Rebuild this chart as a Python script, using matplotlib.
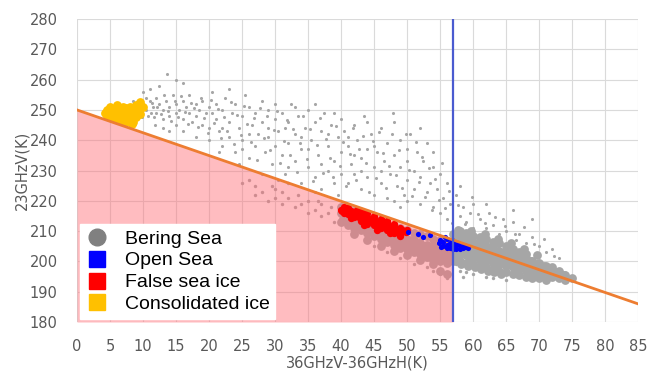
import numpy as np
import matplotlib.pyplot as plt
from matplotlib.lines import Line2D

# threshold lines
line_x = [0, 85]
line_y = [250, 186]
sea_limit = 57

# Bering Sea points, sparse upper cloud
cloud = [(8.5,253),(9,251),(9.5,249),(10,252),(10.5,250),(10.8,248),(11,253),(11.5,251),(12,249),(12,254),
         (12.5,252),(13,250),(13,247),(13.5,253),(14,251),(14,248),(14.5,255),(15,252),(15,249),(15.5,250),
         (16,253),(16,247),(16.5,251),(17,249),(17,255),(17.5,246),(18,252),(18,248),(18.5,250),(19,245),
         (19,253),(19.5,249),(20,251),(20,244),(10,256),(11,257),(12.5,258),(13.6,262),(15,260),(16,259),
         (14,243),(16,243),(18,241),(20,240),(11.8,245),(13,244),(15,245),(10.2,250.5),(11.2,249),(12.2,251),
         (20.5,256),(21,252),(21,247),(21.5,243),(22,250),(22,238),(22.5,254),(23,246),(23,241),(23.5,249),
         (24,236),(24,252),(24.5,244),(25,248),(25,240),(25.5,255),(26,251),(26,234),(26.5,245),(27,238),
         (27,249),(27.5,242),(28,253),(28,246),(28.5,236),(29,250),(29,241),(29.5,232),(30,247),(30,238),
         (20.5,249),(21.5,236),(23,257),(24.5,232),(26,242),(28,229),(29,244),(30,252),(25,237),(22,244),
         (30.5,243),(31,249),(31,235),(31.5,229),(32,246),(32,239),(32.5,252),(33,242),(33,233),(33.5,248),
         (34,237),(34,226),(34.5,244),(35,250),(35,231),(35.5,240),(36,246),(36,228),(36.5,235),(37,243),
         (37,224),(37.5,249),(38,238),(38,230),(38.5,245),(39,233),(39,226),(39.5,241),(40,247),(40,236),
         (30.5,227),(31.5,244),(32,231),(33,251),(34,241),(35,237),(36,252),(37,232),(38,242),(39,249),
         (40,229),(36,223),(39.5,222),
         (40.5,243),(41,238),(41,226),(41.5,232),(42,245),(42,229),(42.5,240),(43,234),(43,224),(43.5,248),
         (44,237),(44,228),(44.5,242),(45,231),(45,222),(45.5,236),(46,244),(46,226),(46.5,233),(47,239),
         (47,221),(47.5,229),(48,246),(48,235),(48.5,225),(49,240),(49,231),(49.5,222),(50,237),(50,227),
         (41,241),(42,235),(43,230),(44,246),(45,238),(46,230),(47.9,249),(48,220),(49,218),(50,233),(50,220),
         (50.5,242),(51,230),(51,224),(51.5,236),(52,228),(52,219),(52.5,233),(53,223),(53,239),(53.5,226),
         (54,218),(54,231),(54.5,224),(55,229),(55,216),(55.5,221),(56,226),(56,214),(56.5,219),(57.5,222),
         (58,215),(58.5,218),(59,213),(59.5,216),(60,211),(60,219),(58,225),(52,244),(54,236),
         (61,214),(62,211),(62.5,216),(63,212),(64,209),(64.5,214),(65,210),(66,213),(66.5,207),(67,209),
         (68,206),(69,208),(70,205),(71,203),(72,204),(73,201),(69,214),(66,217),(62,219)]

cloud2 = [(9.2,252.5),(9.8,247.5),(10.5,254),(11.3,252.2),(11.7,247.8),(12.8,248.6),(13.2,255),(13.8,249.5),
          (14.3,246.5),(14.8,252.8),(15.3,247.6),(15.8,254.5),(16.3,249.3),(16.8,245.5),(17.3,252.4),(17.8,250.6),
          (18.3,244.2),(18.8,254),(19.3,247.2),(19.8,242.5),(20.3,253.4),(20.8,245.6),(21.3,250.2),(21.8,240.8),
          (22.3,247.8),(22.8,243),(23.3,252.6),(23.8,238.6),(24.3,248.2),(24.8,241.8),(25.3,251.3),(25.8,245.2),
          (26.3,239.5),(26.8,247.4),(27.3,233.6),(27.8,250.7),(28.3,240.6),(28.8,247.9),(29.3,236.8),(29.8,243.3),
          (30.3,249.6),(30.8,232.5),(31.3,239.8),(31.8,246.6),(32.3,235.2),(32.8,243.7),(33.3,229.6),(33.8,239.2),
          (34.3,248.1),(34.8,233.9),(35.3,243.8),(35.8,226.4),(36.3,238.3),(36.8,247.3),(37.3,229.1),(37.8,240.4),
          (38.3,234.2),(38.8,227.8),(39.3,244.6),(39.8,231.6),(40.3,239.4),(40.8,224.8),(41.3,235.6),(41.8,244.1),
          (42.3,226.8),(42.8,237.2),(43.3,241.4),(43.8,232.6),(44.3,222.9),(44.8,239.6),(45.3,227.4),(45.8,242.6),
          (46.3,235.9),(46.8,224.1),(47.3,231.4),(47.8,241.9),(48.3,228.6),(48.8,236.8),(49.3,224.3),(49.8,242.1),
          (50.3,230.1),(50.8,221.6),(51.3,239.3),(51.8,226.2),(52.3,234.6),(52.8,221.4),(53.3,230.8),(53.8,216.9),
          (54.3,227.1),(54.8,220.2),(55.3,232.5),(55.8,217.7),(56.3,223.3),(56.8,212.6),(57.8,218.5),(58.8,212.2),
          (59.8,221.2),(60.8,215.6),(61.8,212.8),(63.3,214.6),(64.8,211.6),(66.3,209.2),(67.8,211.2),(69.3,205.6),
          (70.8,207.3),(72.3,201.8)]

# Bering Sea points just under the orange line and below the dense band
under = [(25,226),(26,227),(27,222),(28,223),(29,220),(30,221),(31,219),(32,221),(33,218),(34,219),
         (35,216),(36,217),(37,215),(38,216),(39,213),(30,224),(32,226),(27,225),(35,220),(37,219),
         (29.5,225),(31,223),(33.5,222),(36.5,220),(38.5,218),
         (45,205),(47,203),(49,201),(51,199),(53,198),(55,196),(56,194.5),(54,197),(52,200.5),
         (58,197),(59,196.5),(60,196),(62,195),(63,194.5),(65,194),(61,197.5),(57.5,199),(58.5,195)]

# Bering Sea dense band along the line
band = [(40,216),(40,213),(40,218),(41,215),(41,212),(41,217.5),(42,214),(42,211),(42,216.5),(42,209),
        (43,213.5),(43,210.5),(43,215.5),(44,212),(44,209.5),(44,214.5),(44,207),(45,211.5),(45,208.5),
        (45,214),(46,210.5),(46,207.5),(46,213),(46,205),(47,210),(47,206.5),(47,212.5),(48,209),(48,205.5),
        (48,211.5),(48,203.5),(49,208),(49,204.5),(49,211),(50,207.5),(50,204),(50,210.5),(50,202),
        (51,207),(51,203),(51,209.5),(51,205),(52,206),(52,202.5),(52,209),(52,200.5),(53,205.5),(53,201.5),
        (53,208.5),(53,203.5),(54,205),(54,200.5),(54,207.5),(54,199),(55,204),(55,200),(55,207),(55,202),
        (55,197),(56,203.5),(56,199.5),(56,206.5),(56,201.5),(56,196),(57,203),(57,206),(57,209),(57,200),
        (58,202.5),(58,205.5),(58,208),(58,200),(58,210),(59,202),(59,204.5),(59,207.5),(59,199.5),(59,209.5),
        (60,201),(60,204),(60,206.5),(60,199),(60,208.5),(61,200.5),(61,203.5),(61,206),(61,198.5),(61,208),
        (62,200),(62,202.5),(62,205),(62,198),(62,207.5),(63,199.5),(63,202),(63,204.5),(63,197.5),(63,206.5),
        (64,199),(64,201.5),(64,203.5),(64,197),(64,206),(65,198.5),(65,200.5),(65,203),(65,196.5),(65,205),
        (66,198),(66,200),(66,202.5),(66,196),(66,204),(67,197.5),(67,199.5),(67,201.5),(67,195.5),(67,203),
        (68,197),(68,199),(68,201),(68,195),(68,202.5),(69,196.5),(69,198),(69,200),(69,194.5),(70,196),
        (70,197.5),(70,199.5),(70,194.5),(71,195.5),(71,197),(71,198.5),(71,194),(72,195),(72,196.5),
        (72,198),(73,194.5),(73,196),(73,197),(74,194),(74,195.5),(75,194.5),
        (40.5,214.5),(41.5,213),(42.5,212.5),(43.5,211.5),(44.5,210.5),(45.5,209.5),(46.5,208.5),(47.5,207.5),
        (48.5,206.5),(49.5,205.5),(50.5,205),(51.5,204),(52.5,203.5),(53.5,202.5),(54.5,201.5),(55.5,201),
        (56.5,200.5),(57.5,202),(58.5,203.5),(59.5,201),(60.5,202.5),(61.5,201.5),(62.5,201),(63.5,200.5),
        (64.5,200),(65.5,199),(66.5,198.5),(67.5,198),(68.5,197.5),(69.5,196.5),(70.5,196),(71.5,195.5),
        (72.5,195.5),(73.5,195),(57.5,207),(58.5,206.5),(59.5,205.5),(60.5,205),(61.5,204.5),(62.5,203.5),
        (63.5,203),(64.5,202.5),(65.5,201.5),(66.5,201),(67.5,200.5),(68.5,199.5),(69.5,198.5),(70.5,198)]

band2 = [(40.25,214),(40.75,215.5),(41.25,213.5),(41.75,215),(42.25,212),(42.75,214.5),(43.25,211.5),
         (43.75,213),(44.25,210.5),(44.75,212.5),(45.25,210),(45.75,211.5),(46.25,209),(46.75,210.5),
         (47.25,208),(47.75,209.5),(48.25,207),(48.75,208.5),(49.25,206),(49.75,207.5),(50.25,205.5),
         (50.75,207),(51.25,204.5),(51.75,206),(52.25,203.5),(52.75,205),(53.25,202.5),(53.75,204),
         (54.25,202),(54.75,203.5),(55.25,201),(55.75,202.5),(56.25,200.5),(56.75,202),
         (57.25,204),(57.75,208.5),(58.25,203.5),(58.75,207.5),(59.25,203),(59.75,206.5),(60.25,202),
         (60.75,206),(61.25,201.5),(61.75,205),(62.25,201),(62.75,204.5),(63.25,200),(63.75,203.5),
         (64.25,199.5),(64.75,203),(65.25,199),(65.75,202),(66.25,198.5),(66.75,201.5),(67.25,198),
         (67.75,200.5),(68.25,197.5),(68.75,200),(69.25,197),(69.75,199),(70.25,196.5),(70.75,198.5),
         (71.25,196),(71.75,197.5),(72.25,195.5),(72.75,196.5),(73.25,195),(73.75,195.5),
         (57.25,201),(58.25,199),(59.25,198.5),(60.25,198),(61.25,197.5),(62.25,197),(63.25,196.5),
         (64.25,196),(57.75,210.5),(59.75,210),(61.75,209),(63.75,207.5),(65.75,206),(67.75,204),(69.75,202)]

# False sea ice
false_ice = [(40,217),(40.5,216),(41,217.5),(41,215.5),(41.5,216.5),(42,216),(42,214.5),(42.5,215),(43,215.5),
             (43,213.5),(43.5,214),(44,214.5),(44,212.5),(44.5,213.5),(45,214),(45,212),(45.5,212.5),(46,213),
             (46,211),(46.5,212),(47,212.5),(47,210.5),(47.5,211),(48,211.5),(48,209.5),(48.5,210.5),(49,211),
             (49,209.5),(49.5,210),(50,210.5),(40.5,218),(42.5,217),(44,216),(46,214),(48,212.5),(43,216.8),
             (45,215),(47,213.5),(41.5,214.2),(43.5,212),(45.5,210.5),(47.5,209.5),(49,208.5),
             (40.2,216.6),(40.8,216.9),(41.2,216.2),(41.8,215.6),(42.2,215.4),(42.8,214.8),(43.2,214.6),
             (43.8,213.4),(44.2,213.8),(44.8,213.2),(45.2,212.8),(45.8,212.2),(46.2,211.8),(46.8,211.2),
             (47.2,211.6),(47.8,210.4),(48.2,210.6),(48.8,209.8),(49.2,210.4),(49.8,209.6)]

# Open sea
open_sea = [(50.2,209.8),(51.7,209),(52.5,208.1),(53.5,208.7),(55,207),(55.5,206.5),(55.5,205),(56,207.5),
            (56,205.5),(56,204.5),(56.5,206),(56.5,204.5),(57,206.5),(57,205),(57,204),(57.5,205.5),(57.5,204.2),
            (58,205),(58,204),(58.5,205.2),(58.5,204.3),(59,204.8),(54.8,206),(55.2,204.8),(56.8,207),
            (55.8,208),(57.8,206),(59.3,204.5)]

# Consolidated ice
consolidated = [(4.2,249),(4.5,250),(4.8,248),(5,251),(5,249),(5.5,250),(5.5,247.5),(6,251.5),(6,249),(6,247),
                (6.5,250),(6.5,248),(7,251),(7,249.5),(7,247),(7.5,250.5),(7.5,248),(7.5,246),(8,251),(8,249),
                (8,247),(8.5,250),(8.5,248),(8.5,246),(9,251.5),(9,249.5),(9,247.5),(9.5,252.5),(9.5,250.5),
                (9.5,248.5),(10,251),(4.5,248),(5.2,247.5),(6.8,246.5),(8.3,245.5)]

fig = plt.figure(figsize=(6.59, 3.73), dpi=100)
ax = fig.add_axes([0.1168, 0.1367, 0.8513, 0.8123])

gray = '#A6A6A6'
for pts, size in [(cloud, 5), (cloud2, 5), (under, 6), (band, 40), (band2, 40)]:
    x, y = zip(*pts)
    ax.scatter(x, y, s=size, color=gray, linewidths=0, zorder=1)

# pink zone under the line, left of the open sea limit
fx = np.array([0, sea_limit])
fy = np.interp(fx, line_x, line_y)
ax.fill_between(fx, 180, fy, color='#FF6B74', alpha=0.45, linewidth=0, zorder=2)

x, y = zip(*false_ice)
ax.scatter(x, y, s=28, color='#FF0000', linewidths=0, zorder=3)
x, y = zip(*open_sea)
ax.scatter(x, y, s=14, color='#0000FF', linewidths=0, zorder=3)
x, y = zip(*consolidated)
ax.scatter(x, y, s=40, color='#FFC000', linewidths=0, zorder=3)

ax.plot(line_x, line_y, color='#ED7D31', lw=2, zorder=4)
ax.axvline(sea_limit, color='#4A5BD0', lw=1.6, zorder=4)

ax.set_xlim(0, 85)
ax.set_ylim(180, 280)
ax.set_xticks(range(0, 86, 5))
ax.set_yticks(range(180, 281, 10))
ax.grid(color='#DADADA', lw=0.8)
ax.set_axisbelow(True)
for s in ax.spines.values():
    s.set_visible(False)
ax.tick_params(length=0, labelsize=10.5, labelcolor='#595959')
ax.tick_params(axis='x', pad=12)
ax.tick_params(axis='y', pad=14)
ax.set_xlabel('36GHzV-36GHzH(K)', fontsize=10.5, color='#595959', labelpad=1)
ax.set_ylabel('23GHzV(K)', fontsize=10.5, color='#595959', labelpad=0)

handles = [Line2D([], [], ls='', marker='o', ms=12, color='#808080'),
           Line2D([], [], ls='', marker='s', ms=11, color='#0000FF'),
           Line2D([], [], ls='', marker='s', ms=11, color='#FF0000'),
           Line2D([], [], ls='', marker='s', ms=11, color='#FFC000')]
labels = ['Bering Sea', 'Open Sea', 'False sea ice', 'Consolidated ice']
leg = ax.legend(handles, labels, loc='lower left', bbox_to_anchor=(0, 0), borderaxespad=0.15,
                prop={'family': 'Liberation Sans', 'size': 14}, frameon=True, fancybox=False,
                framealpha=1, edgecolor='white', handlelength=1.2, handletextpad=0.8,
                labelspacing=0.22, borderpad=0.3)
leg.set_zorder(5)

fig.savefig('out.png', dpi=100)
